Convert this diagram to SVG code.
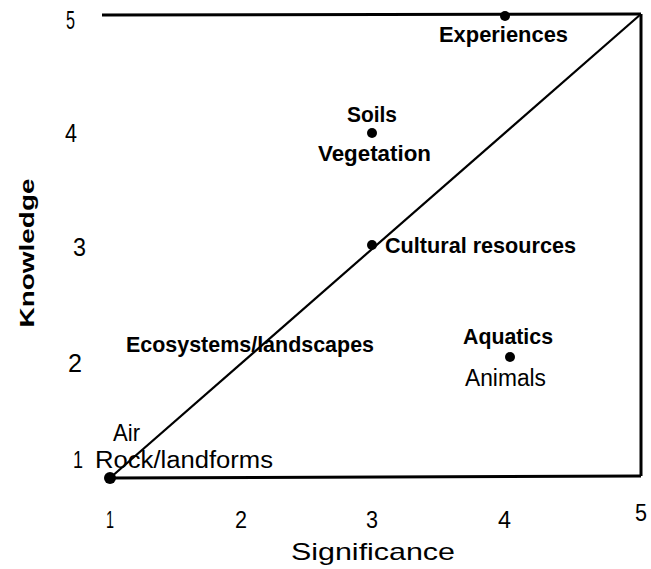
<svg xmlns="http://www.w3.org/2000/svg" width="651" height="569" viewBox="0 0 651 569">
<style>
.ax{stroke:#000;stroke-width:3;fill:none}
.dg{stroke:#000;stroke-width:2.2;fill:none}
.t{font-family:"Liberation Sans",Arial,sans-serif;fill:#000}
.b{font-weight:bold;font-size:22px}
.r{font-size:23px}
.y{font-size:26px}
.x{font-size:23px}
.dot{fill:#000}
</style>
<rect width="651" height="569" fill="#fff"/>
<g id="connectors">
<line class="ax" x1="102" y1="15" x2="641" y2="14"/>
<line class="ax" x1="641" y1="14" x2="641" y2="476"/>
<line class="ax" x1="110" y1="478" x2="641" y2="476"/>
<line class="dg" x1="110" y1="478" x2="641" y2="14"/>
</g>
<g id="axis-labels">
<text class="t y" x="66" y="29" textLength="9" lengthAdjust="spacingAndGlyphs">5</text>
<text class="t y" x="65" y="142" textLength="12" lengthAdjust="spacingAndGlyphs">4</text>
<text class="t y" x="73" y="256" textLength="13" lengthAdjust="spacingAndGlyphs">3</text>
<text class="t y" x="68" y="372" textLength="14" lengthAdjust="spacingAndGlyphs">2</text>
<text class="t x" x="106" y="528" textLength="8" lengthAdjust="spacingAndGlyphs">1</text>
<text class="t x" x="235" y="528" textLength="12" lengthAdjust="spacingAndGlyphs">2</text>
<text class="t x" x="366" y="528" textLength="12" lengthAdjust="spacingAndGlyphs">3</text>
<text class="t x" x="498" y="528" textLength="13" lengthAdjust="spacingAndGlyphs">4</text>
<text class="t x" x="635" y="521" textLength="12" lengthAdjust="spacingAndGlyphs">5</text>
<text class="t" x="373" y="560" font-size="24" text-anchor="middle" textLength="164" lengthAdjust="spacingAndGlyphs">Significance</text>
<text class="t" font-size="21" font-weight="bold" text-anchor="middle" transform="translate(34 253) rotate(-90)" textLength="149" lengthAdjust="spacingAndGlyphs">Knowledge</text>
</g>
<g id="node-experiences">
<circle class="dot" cx="505" cy="16" r="5"/>
<text class="t b" x="439" y="42" font-size="19" textLength="129" lengthAdjust="spacingAndGlyphs">Experiences</text>
</g>
<g id="node-soils">
<circle class="dot" cx="372" cy="133" r="5"/>
<text class="t b" x="347" y="122" textLength="50" lengthAdjust="spacingAndGlyphs">Soils</text>
<text class="t b" x="318" y="161" textLength="113" lengthAdjust="spacingAndGlyphs">Vegetation</text>
</g>
<g id="node-cultural">
<circle class="dot" cx="372" cy="245" r="5"/>
<text class="t b" x="385" y="253" textLength="191" lengthAdjust="spacingAndGlyphs">Cultural resources</text>
</g>
<g id="node-aquatics">
<circle class="dot" cx="510" cy="357" r="5"/>
<text class="t b" x="463" y="344" textLength="90" lengthAdjust="spacingAndGlyphs">Aquatics</text>
<text class="t r" x="465" y="386" textLength="81" lengthAdjust="spacingAndGlyphs">Animals</text>
</g>
<g id="node-ecosystems">
<text class="t" x="126" y="352" font-weight="bold" font-size="22" textLength="248" lengthAdjust="spacingAndGlyphs">Ecosystems/landscapes</text>
</g>
<g id="node-origin">
<circle class="dot" cx="110" cy="478" r="6"/>
<text class="t" x="113" y="441" font-size="24" textLength="27" lengthAdjust="spacingAndGlyphs">Air</text>
<text class="t" x="73" y="468" font-size="23" textLength="10" lengthAdjust="spacingAndGlyphs">1</text>
<text class="t" x="95" y="468" font-size="23" textLength="178" lengthAdjust="spacingAndGlyphs">Rock/landforms</text>
</g>
</svg>
